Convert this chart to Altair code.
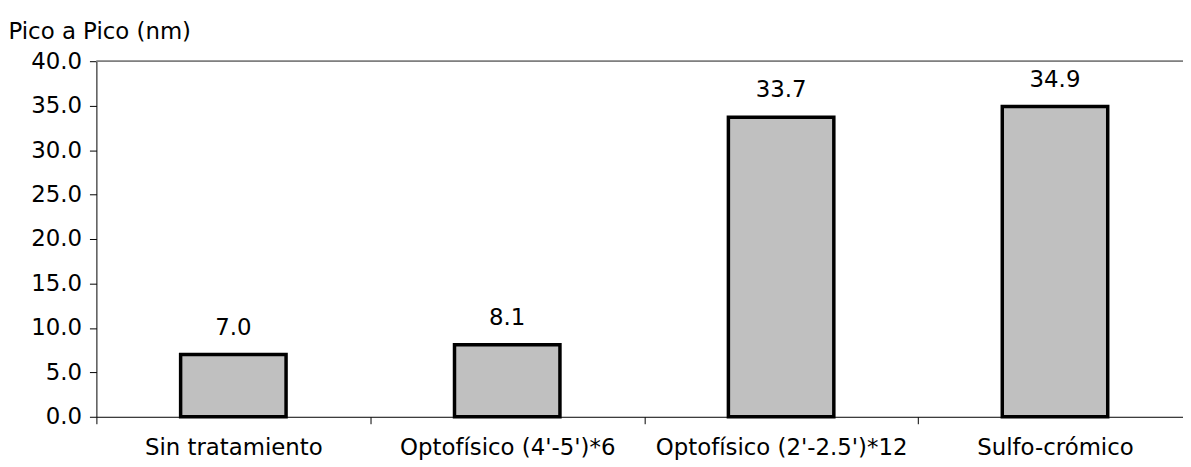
import altair as alt
import pandas as pd

categories = ["Sin tratamiento", "Optofísico (4'-5')*6", "Optofísico (2'-2.5')*12", "Sulfo-crómico"]
values = [7.0, 8.1, 33.7, 34.9]
y_ticks = [0, 5, 10, 15, 20, 25, 30, 35, 40]

df = pd.DataFrame({"cat": categories, "val": values})
FONT = "DejaVu Sans"
FS = 23

x = alt.X(
    "cat:N",
    sort=categories,
    scale=alt.Scale(paddingInner=0, paddingOuter=0, range=[0, 1103]),
    axis=alt.Axis(
        title=None, labelAngle=0, tickBand="extent", tickSize=7, labelPadding=13,
        domainColor="black", tickColor="black", labelFontSize=FS, labelFont=FONT,
        labelColor="black", grid=False, labelLimit=0,
    ),
)
y = alt.Y(
    "val:Q",
    scale=alt.Scale(domain=[0, 40], nice=False),
    axis=alt.Axis(
        values=y_ticks, format=".1f", title="Pico a Pico (nm)", titleAngle=0,
        titleAlign="left", titleX=-89, titleY=-30, titleBaseline="middle",
        titleFont=FONT, titleFontSize=FS, titleFontWeight="normal", titleColor="black",
        labelFont=FONT, labelFontSize=FS, labelColor="black", tickSize=7, labelPadding=8,
        domainColor="black", tickColor="black", grid=False,
    ),
)

bars = alt.Chart(df).mark_bar(
    width=alt.RelativeBandSize(0.385), fill="#C0C0C0", stroke="black", strokeWidth=3.5
).encode(x=x, y=y)

labels = alt.Chart(df).mark_text(
    dy=-27, fontSize=FS, font=FONT, color="black", baseline="middle"
).encode(x=x, y=y, text=alt.Text("val:Q", format=".1f"))

top = alt.Chart(df).mark_rule(color="#808080", strokeWidth=1).encode(y=alt.datum(40))

chart = alt.layer(top, bars, labels).properties(
    width=1094, height=358,
    autosize=alt.AutoSizeParams(type="none"),
    padding={"left": 89, "top": 52, "right": 0, "bottom": 49},
).configure_view(stroke=None)

chart.save("out.html", embed_options={"renderer": "svg", "actions": False})
